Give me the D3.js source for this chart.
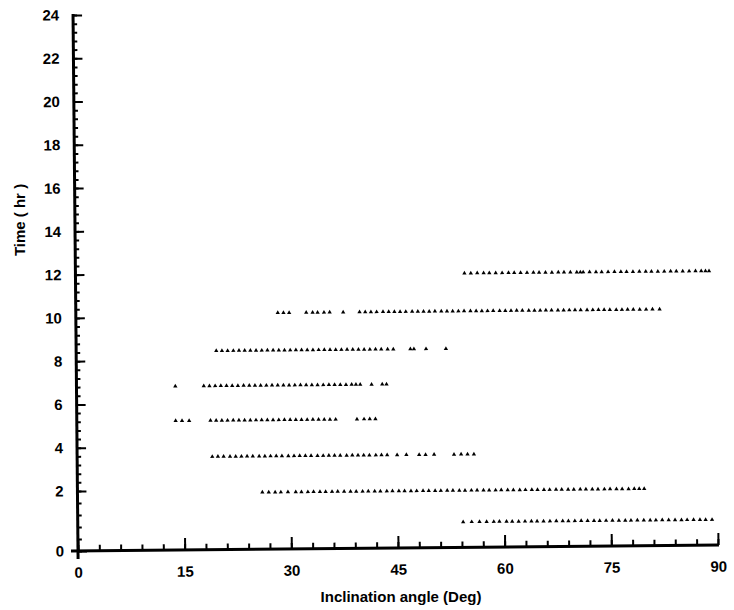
<!DOCTYPE html>
<html>
<head>
<meta charset="utf-8">
<script src="https://cdn.jsdelivr.net/npm/d3@7"></script>
<style>
  body { margin: 0; background: #fff; }
  text { font-family: "Liberation Sans", Arial, sans-serif; font-weight: bold; fill: #000; }
</style>
</head>
<body>
<div id="chart"></div>
<script>
// tick labels
const xTicks = [0, 15, 30, 45, 60, 75, 90];
const yTicks = [0, 2, 4, 6, 8, 10, 12, 14, 16, 18, 20, 22, 24];

// time (hr) of each row of points, bottom to top
const rowTimes = [0.85, 1.9, 3.53, 5.2, 6.8, 8.42, 10.15, 11.9];

// inclination angles (deg)
const row1Angles = [54.2, 55.4, 56.5, 57.5, 58.5, 59.3, 60.3, 61.1, 62.0, 62.9, 63.8, 64.6, 65.5, 66.4, 67.3, 68.2, 69.0, 69.9, 70.8, 71.7, 72.6, 73.4, 74.3, 75.2, 76.1, 77.0, 77.8, 78.7, 79.6, 80.5, 81.3, 82.2, 83.1, 84.0, 84.9, 85.7, 86.6, 87.5, 88.3, 89.2];
const row2Angles = [26.0, 26.9, 27.8, 28.6, 29.6, 30.7, 31.5, 32.4, 33.2, 34.1, 34.9, 35.8, 36.6, 37.5, 38.4, 39.2, 40.1, 40.9, 41.8, 42.6, 43.5, 44.3, 45.2, 46.0, 46.9, 47.7, 48.6, 49.4, 50.3, 51.1, 52.0, 52.8, 53.7, 54.5, 55.4, 56.2, 57.1, 57.9, 58.8, 59.6, 60.5, 61.3, 62.2, 63.0, 63.9, 64.7, 65.6, 66.4, 67.3, 68.1, 69.0, 69.8, 70.7, 71.5, 72.4, 73.2, 74.1, 74.9, 75.8, 76.6, 77.5, 78.3, 79.0, 79.7];
const row3Angles = [19.0, 19.8, 20.6, 21.5, 22.3, 23.1, 23.9, 24.7, 25.6, 26.4, 27.2, 28.0, 28.8, 29.7, 30.5, 31.3, 32.1, 32.9, 33.8, 34.6, 35.4, 36.2, 37.0, 37.9, 38.7, 39.5, 40.3, 41.1, 42.0, 42.8, 43.6, 45.0, 46.3, 48.1, 49.0, 50.2, 53.0, 54.0, 54.9, 55.8];
const row4Angles = [13.9, 14.8, 15.8, 18.8, 19.6, 20.4, 21.2, 22.0, 22.8, 23.6, 24.4, 25.2, 26.0, 26.8, 27.6, 28.4, 29.2, 30.0, 30.8, 31.6, 32.4, 33.2, 34.0, 34.8, 35.6, 36.4, 39.4, 40.4, 41.2, 42.0];
const row5Angles = [13.9, 17.9, 18.7, 19.5, 20.3, 21.1, 21.9, 22.7, 23.5, 24.3, 25.1, 25.9, 26.7, 27.5, 28.3, 29.1, 29.9, 30.7, 31.5, 32.3, 33.1, 33.9, 34.7, 35.5, 36.3, 37.1, 37.9, 38.7, 39.3, 39.9, 41.5, 43.0, 43.6];
const row6Angles = [19.7, 20.5, 21.3, 22.1, 22.9, 23.7, 24.5, 25.3, 26.1, 26.9, 27.7, 28.5, 29.3, 30.1, 30.9, 31.7, 32.5, 33.3, 34.1, 34.9, 35.7, 36.5, 37.3, 38.1, 38.9, 39.7, 40.5, 41.3, 42.1, 42.9, 43.8, 44.6, 47.0, 47.5, 49.2, 52.0];
const row7Angles = [28.4, 29.2, 30.0, 32.4, 33.3, 34.0, 34.9, 35.7, 37.6, 39.9, 40.7, 41.5, 42.3, 43.2, 44.0, 44.8, 45.6, 46.4, 47.3, 48.1, 48.9, 49.7, 50.5, 51.4, 52.2, 53.0, 53.8, 54.6, 55.5, 56.3, 57.1, 57.9, 58.7, 59.6, 60.4, 61.2, 62.0, 62.8, 63.7, 64.5, 65.3, 66.1, 66.9, 67.8, 68.6, 69.4, 70.2, 71.0, 71.9, 72.7, 73.5, 74.3, 75.1, 76.0, 76.8, 77.6, 78.4, 79.3, 80.2, 81.1, 82.1];
const row8Angles = [54.7, 55.6, 56.5, 57.4, 58.2, 59.1, 60.0, 60.9, 61.7, 62.6, 63.5, 64.4, 65.2, 66.1, 67.0, 67.9, 68.7, 69.6, 70.5, 71.0, 71.4, 72.3, 73.2, 74.0, 74.9, 75.8, 76.7, 77.5, 78.4, 79.3, 80.2, 81.0, 81.9, 82.8, 83.7, 84.5, 85.4, 86.3, 87.2, 88.0, 88.6, 89.1];

const rows = [row1Angles, row2Angles, row3Angles, row4Angles, row5Angles, row6Angles, row7Angles, row8Angles];
const points = rows.flatMap((angles, i) => angles.map(a => ({ angle: a, time: rowTimes[i] })));

const width = 734, height = 610;

const svg = d3.select("#chart").append("svg")
    .attr("width", width)
    .attr("height", height);

// scanned original sits slightly tilted
const g = svg.append("g").attr("transform", "rotate(-0.53,78,551)");

const x = d3.scaleLinear().domain([0, 90]).range([78, 718]);
// lowest band of the axis is stretched in the original
const y = d3.scaleLinear().domain([0, 2, 24]).range([551, 491, 15]);

// y axis: minor ticks every 0.4 hr, labelled every 2 hr
const yMinor = d3.range(0, 61).map(i => +(i * 0.4).toFixed(1));
g.append("g")
    .attr("transform", `translate(${x(0)},0)`)
    .call(d3.axisLeft(y).tickValues(yMinor).tickSize(-4).tickFormat(""))
    .call(a => a.select(".domain").remove())
    .selectAll("line").attr("stroke", "#000").attr("stroke-width", 2);

g.append("g")
    .attr("transform", `translate(${x(0)},0)`)
    .call(d3.axisLeft(y).tickValues(yTicks).tickSize(-9).tickPadding(14))
    .call(a => a.select(".domain").remove())
    .call(a => a.selectAll("line").attr("stroke", "#000").attr("stroke-width", 2))
    .call(a => a.selectAll("text").style("font-size", "15px").attr("font-family", null));

// x axis: ticks every 3 deg, long ones every 15
const xMinor = d3.range(0, 31).map(i => i * 3);
g.append("g")
    .attr("transform", `translate(0,${y(0)})`)
    .call(d3.axisBottom(x).tickValues(xMinor).tickSize(-6).tickFormat(""))
    .call(a => a.select(".domain").remove())
    .selectAll("line").attr("stroke", "#000").attr("stroke-width", 2);

g.append("g")
    .attr("transform", `translate(0,${y(0)})`)
    .call(d3.axisBottom(x).tickValues(xTicks).tickSize(-12).tickPadding(16))
    .call(a => a.select(".domain").remove())
    .call(a => a.selectAll("line").attr("stroke", "#000").attr("stroke-width", 2))
    .call(a => a.selectAll("text").style("font-size", "15px").attr("font-family", null));

// thick axis lines
g.append("line")
    .attr("x1", x(0)).attr("x2", x(0))
    .attr("y1", y(24) - 1).attr("y2", y(0) + 8)
    .attr("stroke", "#000").attr("stroke-width", 3);
g.append("line")
    .attr("x1", x(0) - 7).attr("x2", x(90) + 1)
    .attr("y1", y(0)).attr("y2", y(0))
    .attr("stroke", "#000").attr("stroke-width", 3);

// points
g.selectAll(".pt")
    .data(points)
    .enter()
    .append("path")
    .attr("class", "pt")
    .attr("transform", d => `translate(${x(d.angle)},${y(d.time)})`)
    .attr("d", d3.symbol(d3.symbolTriangle).size(8))
    .attr("fill", "#000");

// axis titles
svg.append("text")
    .attr("x", 401).attr("y", 602)
    .attr("text-anchor", "middle")
    .style("font-size", "15px")
    .text("Inclination angle (Deg)");

svg.append("text")
    .attr("transform", "translate(25,220) rotate(-90)")
    .attr("text-anchor", "middle")
    .style("font-size", "15px")
    .text("Time ( hr )");
</script>
</body>
</html>
